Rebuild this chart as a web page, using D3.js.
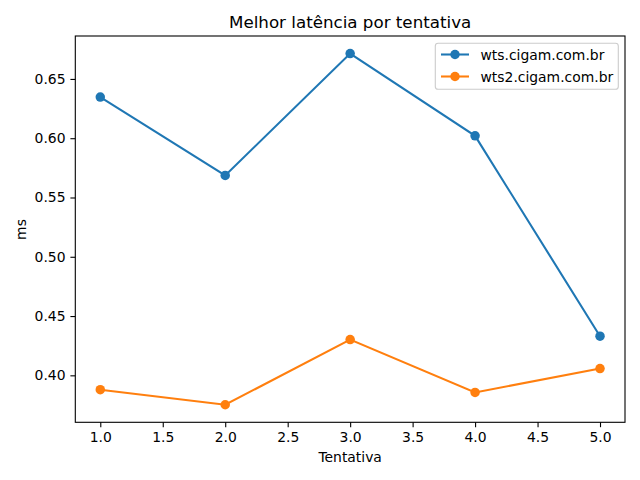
<!DOCTYPE html>
<html><head><meta charset="utf-8">
<script src="https://cdn.jsdelivr.net/npm/d3@7"></script>
<style>body{margin:0;background:#fff}svg{display:block}text{font-family:"DejaVu Sans",sans-serif;fill:#000}</style>
</head><body><svg id="c" width="640" height="480"></svg>
<script>
const tentativas = [1, 2, 3, 4, 5];
const wts = [0.6347, 0.5686, 0.6714, 0.6020, 0.4330];
const wts2 = [0.3879, 0.3752, 0.4302, 0.3856, 0.4057];
const seriesNames = ["wts.cigam.com.br", "wts2.cigam.com.br"];
const colors = ["#1f77b4", "#ff7f0e"];
const xTicks = [1.0, 1.5, 2.0, 2.5, 3.0, 3.5, 4.0, 4.5, 5.0];
const yTicks = [0.40, 0.45, 0.50, 0.55, 0.60, 0.65];

const svg = d3.select("#c");
const L = 75.3, R = 625, T = 36, B = 422.3;
const x = d3.scaleLinear().domain([0.8, 5.2]).range([L, R]);
const all = wts.concat(wts2);
const mn = d3.min(all), mx = d3.max(all), pad = (mx - mn) * 0.05;
const y = d3.scaleLinear().domain([mn - pad, mx + pad]).range([B, T]);

const fs = 13.9;
const mr = 4.75;
const xa = svg.append("g").attr("transform", `translate(0,${B})`)
  .call(d3.axisBottom(x).tickValues(xTicks).tickFormat(d3.format(".1f")).tickSizeOuter(0).tickSize(4.9).tickPadding(4.9));
const ya = svg.append("g").attr("transform", `translate(${L},0)`)
  .call(d3.axisLeft(y).tickValues(yTicks).tickFormat(d3.format(".2f")).tickSizeOuter(0).tickSize(4.9).tickPadding(4.9));
[xa, ya].forEach(a => {
  a.select(".domain").remove();
  a.selectAll("line").attr("stroke", "#000").attr("stroke-width", 1.1);
  a.selectAll("text").attr("font-size", fs).attr("font-family", "DejaVu Sans").attr("fill", "#000");
});

const line = d3.line().x((d, i) => x(tentativas[i])).y(d => y(d));
[wts, wts2].forEach((s, k) => {
  svg.append("path").datum(s).attr("d", line).attr("fill", "none")
    .attr("stroke", colors[k]).attr("stroke-width", 2.08);
  svg.selectAll(null).data(s).enter().append("circle")
    .attr("cx", (d, i) => x(tentativas[i])).attr("cy", d => y(d)).attr("r", mr)
    .attr("fill", colors[k]);
});

svg.append("rect").attr("x", L).attr("y", T).attr("width", R - L).attr("height", B - T)
  .attr("fill", "none").attr("stroke", "#000").attr("stroke-width", 1.1);

svg.append("text").attr("x", (L + R) / 2).attr("y", 28).attr("text-anchor", "middle")
  .attr("font-size", 16.7).text("Melhor latência por tentativa");
svg.append("text").attr("x", (L + R) / 2).attr("y", 462).attr("text-anchor", "middle")
  .attr("font-size", fs).text("Tentativa");
svg.append("text").attr("transform", "translate(26,229.5) rotate(-90)").attr("text-anchor", "middle")
  .attr("font-size", fs).text("ms");

const lg = svg.append("g");
lg.append("rect").attr("x", 435.3).attr("y", 43.3).attr("width", 183).attr("height", 46).attr("rx", 2.8)
  .attr("fill", "#fff").attr("fill-opacity", 0.8).attr("stroke", "#ccc").attr("stroke-width", 1.1);
seriesNames.forEach((n, k) => {
  const cy = 54.5 + k * 22;
  lg.append("line").attr("x1", 441).attr("x2", 469).attr("y1", cy).attr("y2", cy)
    .attr("stroke", colors[k]).attr("stroke-width", 2.08);
  lg.append("circle").attr("cx", 455).attr("cy", cy).attr("r", mr).attr("fill", colors[k]);
  lg.append("text").attr("x", 480.5).attr("y", cy + 5).attr("font-size", fs).text(n);
});
</script></body></html>
